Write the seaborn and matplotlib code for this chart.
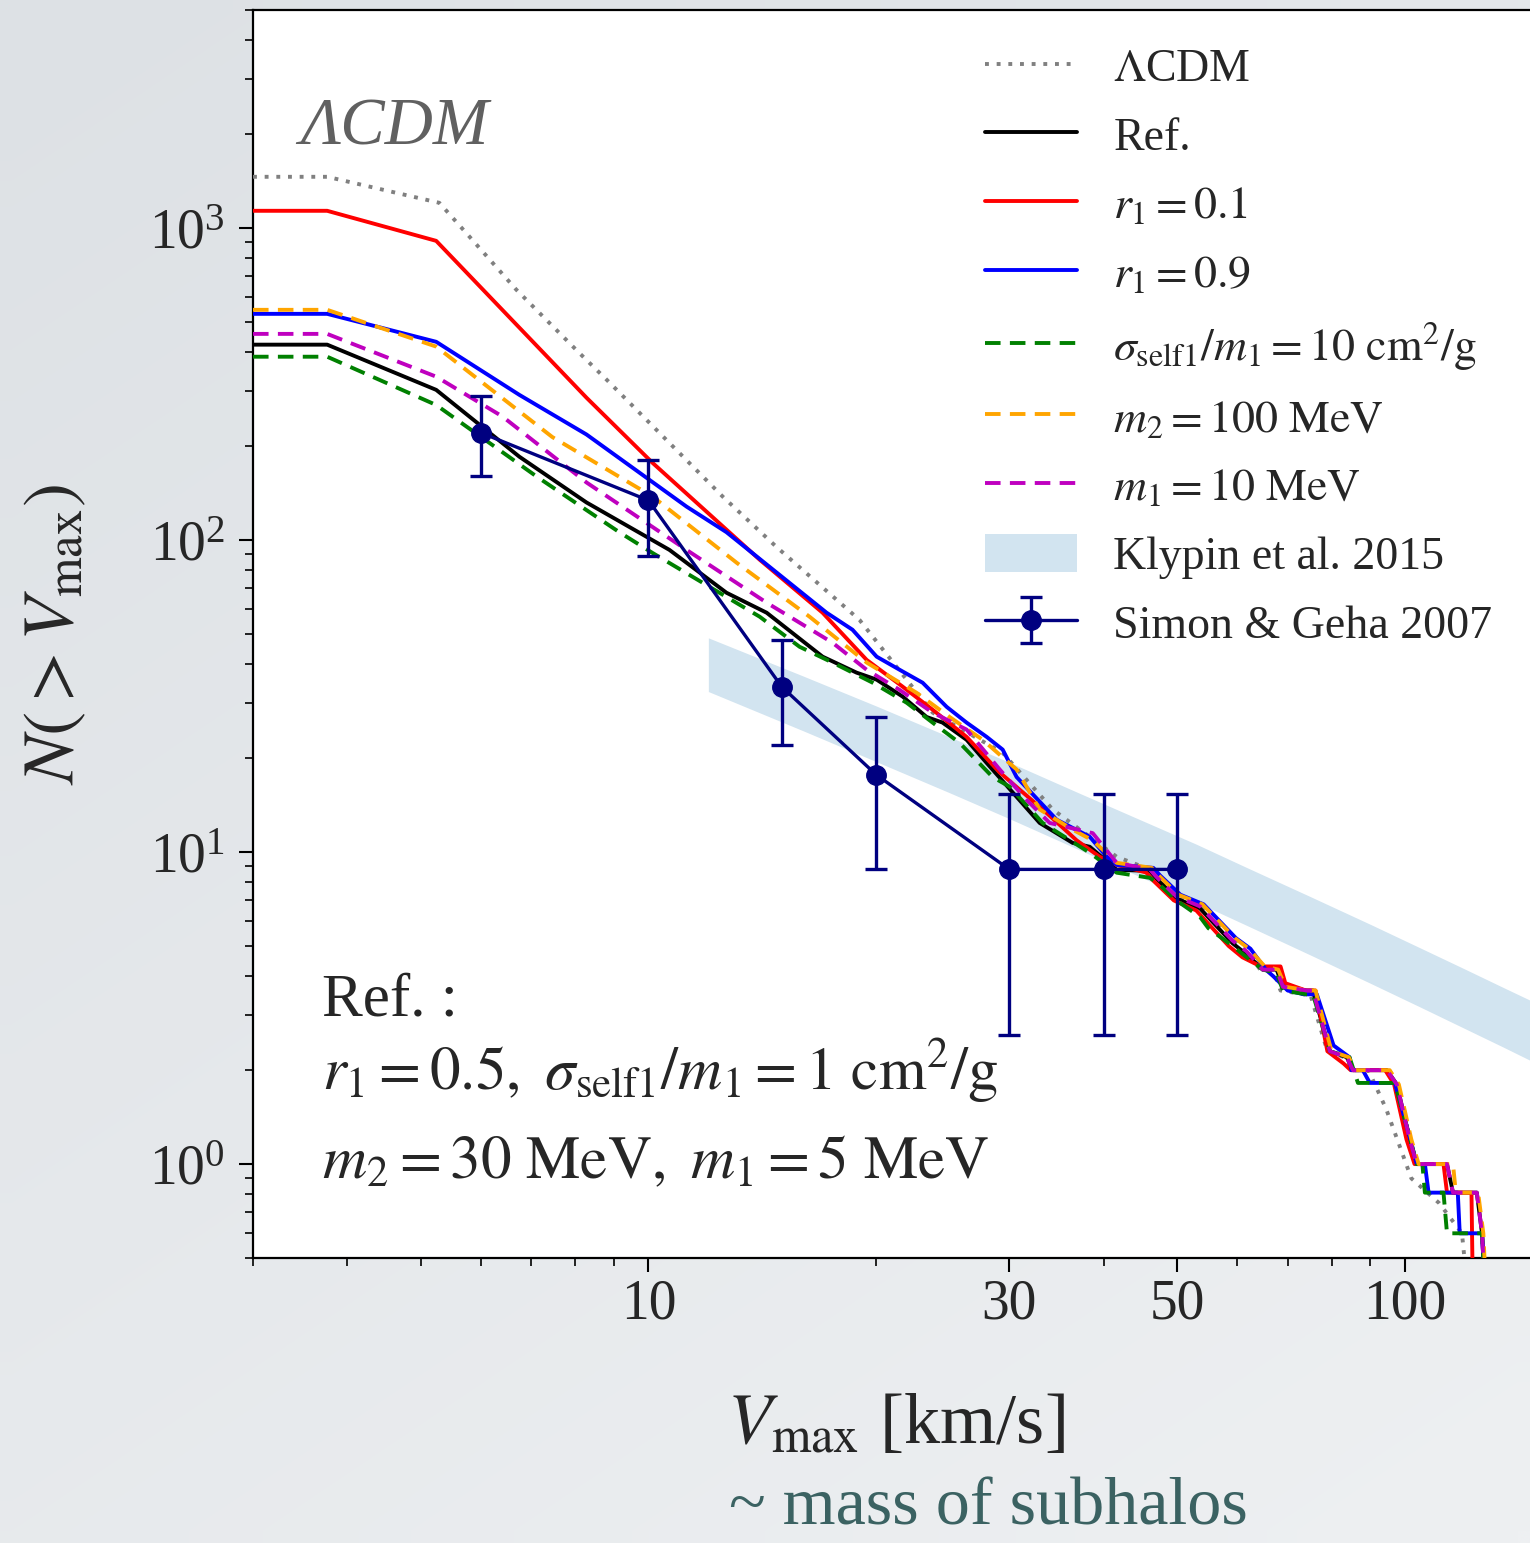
import numpy as np
import matplotlib
matplotlib.use("Agg")
import matplotlib.pyplot as plt
import seaborn as sns
from matplotlib.ticker import FixedLocator, FixedFormatter, LogLocator, NullFormatter

# ---------------- data ----------------
lcdm_v = [3.0, 3.76, 5.29, 5.80, 6.69, 8.10, 8.80, 12.53, 14.77, 19.01, 23.75, 29.40, 34.23, 41.59,
          46.0, 47.0, 49.9, 53.6, 59.2, 61.8, 64.4, 67.2, 68.5, 73.6, 75.0, 79.0, 83.2, 85.0, 89.5, 94.5,
          99.0, 102.0, 111.0, 119.0, 121.0]
lcdm_n = [1460, 1460, 1205, 938, 634, 398, 327, 138, 95, 55.5, 28.0, 20.8, 13.7, 9.66,
          8.8, 8.3, 7.2, 6.7, 5.2, 4.8, 4.2, 4.1, 3.6, 3.5, 3.5, 2.3, 2.2, 2.0, 2.0, 1.5,
          1.1, 0.9, 0.75, 0.6, 0.4]

ref_v = [3.0, 3.76, 5.24, 6.75, 8.28, 10.66, 12.68, 14.33, 16.99, 18.84, 20.03, 21.68, 23.32, 24.48,
         26.34, 28.00, 32.90, 36.38, 38.32, 41.59,
         46.0, 47.0, 49.9, 53.6, 59.2, 61.8, 64.9, 67.7, 69.0, 74.2, 75.6, 79.6, 83.8, 85.4, 94.7, 97.6,
         101.5, 103.7, 113.7, 115.8, 124.5, 126.5, 127.6]
ref_n = [423, 423, 303, 185, 132, 93, 67.8, 58.5, 42.3, 37.6, 35.7, 31.5, 27.1, 26.0,
         22.9, 19.3, 12.4, 10.7, 10.4, 8.78,
         8.7, 8.2, 7.1, 6.6, 5.1, 4.7, 4.2, 4.2, 3.7, 3.6, 3.6, 2.3, 2.2, 2.0, 2.0, 1.8,
         1.2, 1.0, 1.0, 0.81, 0.81, 0.6, 0.4]

r01_v = [3.0, 3.76, 5.24, 8.28, 10.12, 14.03, 16.99, 19.43, 21.68, 23.75, 26.34, 29.13, 33.20, 36.83,
         39.50, 41.59,
         45.5, 46.5, 49.5, 53.0, 58.5, 61.0, 64.5, 68.5, 69.5, 74.0, 76.2, 79.0, 83.0, 84.8, 94.2, 96.8,
         100.5, 103.0, 112.5, 113.7, 122.5, 123.0]
r01_n = [1136, 1136, 910, 286, 177, 86.5, 58.5, 41.3, 33.9, 28.6, 23.4, 18.0, 13.7, 10.9,
         9.66, 9.1,
         8.6, 8.1, 7.0, 6.5, 5.0, 4.6, 4.3, 4.3, 3.8, 3.6, 3.6, 2.3, 2.1, 2.0, 2.0, 1.8,
         1.2, 1.0, 1.0, 0.81, 0.81, 0.4]

r09_v = [3.0, 3.76, 5.24, 6.75, 8.28, 11.23, 12.68, 17.20, 18.61, 20.03, 21.48, 23.04, 24.79, 26.34,
         28.00, 29.40, 30.67, 34.65, 38.32, 40.35, 41.59,
         46.5, 47.5, 50.5, 54.2, 59.8, 62.5, 65.5, 67.0, 70.0, 73.6, 76.5, 80.5, 84.5, 85.0, 88.0, 89.9,
         97.0, 101.5, 103.7, 106.3, 107.5, 117.5, 118.2, 126.5, 127.6]
r09_n = [531, 531, 432, 292, 218, 128, 106, 58.5, 51.6, 42.3, 38.4, 34.9, 29.2, 26.0,
         23.4, 21.3, 17.4, 12.7, 11.2, 9.66, 9.1,
         8.9, 8.4, 7.3, 6.8, 5.3, 4.9, 4.2, 4.0, 3.6, 3.5, 3.5, 2.4, 2.2, 2.0, 2.0, 1.82,
         1.82, 1.22, 1.0, 1.0, 0.81, 0.81, 0.6, 0.6, 0.4]

sig_v = [3.0, 3.76, 5.24, 7.11, 9.15, 10.12, 14.03, 15.84, 17.51, 19.79, 21.95, 23.75, 25.78, 28.51,
         30.03, 33.20, 38.32, 41.59, 46.0,
         47.0, 49.9, 53.6, 55.0, 59.2, 61.8, 64.9, 67.7, 69.0, 74.2, 75.6, 79.6, 84.5, 86.7, 97.0,
         101.5, 103.7, 105.5, 106.3, 112.5, 113.7, 126.5, 127.6]
sig_n = [387, 387, 271, 160, 106, 91, 56.8, 45.5, 40.5, 34.9, 30.1, 26.0, 22.4, 17.4,
         16.2, 12.4, 9.95, 8.59, 8.27,
         8.0, 7.0, 6.2, 5.7, 5.0, 4.6, 4.2, 4.1, 3.6, 3.5, 3.5, 2.3, 2.2, 1.82, 1.82,
         1.22, 1.0, 1.0, 0.81, 0.81, 0.6, 0.6, 0.4]

m2_v = [3.0, 3.76, 5.24, 7.46, 10.12, 13.08, 16.33, 19.43, 22.62, 25.01, 27.66, 30.67, 32.90, 36.38,
        38.67, 41.59,
        46.3, 47.3, 50.2, 54.0, 59.6, 62.2, 65.3, 68.0, 69.5, 74.6, 76.2, 80.0, 84.3, 86.0, 95.5, 98.2,
        102.0, 104.3, 115.8, 116.8, 125.0, 127.0, 128.0]
m2_n = [547, 547, 417, 214, 138, 84.6, 56.8, 40.5, 32.4, 27.1, 22.9, 18.4, 13.7, 11.8,
        10.9, 9.24,
        8.9, 8.4, 7.3, 6.8, 5.3, 4.9, 4.3, 4.2, 3.7, 3.6, 3.6, 2.3, 2.2, 2.0, 2.0, 1.8,
        1.2, 1.0, 1.0, 0.81, 0.81, 0.6, 0.4]

m1_v = [3.0, 3.76, 5.24, 6.41, 8.28, 11.23, 14.33, 17.51, 19.43, 21.48, 23.75, 26.34, 29.13, 31.62,
        33.92, 38.67, 41.59,
        46.0, 47.0, 49.9, 53.6, 59.2, 61.8, 64.9, 67.7, 69.0, 74.2, 75.6, 79.6, 83.8, 85.4, 94.7, 97.6,
        101.5, 103.7, 113.7, 115.8, 124.5, 126.5, 127.6]
m1_n = [458, 458, 334, 249, 153, 93, 63.0, 46.9, 38.4, 33.1, 28.0, 24.7, 18.4, 14.7,
        12.4, 11.5, 9.24,
        8.8, 8.3, 7.2, 6.7, 5.2, 4.8, 4.2, 4.2, 3.7, 3.6, 3.6, 2.3, 2.2, 2.0, 2.0, 1.8,
        1.2, 1.0, 1.0, 0.81, 0.81, 0.6, 0.4]

klypin_v = [12, 16, 20, 25, 30, 37, 45, 53, 62, 75, 90, 105, 120, 135, 150]
klypin_hi = [48.6, 36.7, 29.4, 23.4, 19.4, 15.5, 12.6, 10.6, 8.89, 7.20, 5.87, 4.92, 4.22, 3.68, 3.26]
klypin_lo = [32.7, 24.5, 19.5, 15.5, 12.8, 10.2, 8.27, 6.91, 5.80, 4.68, 3.80, 3.18, 2.72, 2.37, 2.09]

simon_v = [6, 10, 15, 20, 30, 40, 50]
simon_n = [221, 134, 33.9, 17.7, 8.8, 8.8, 8.8]
simon_hi = [290, 181, 47.9, 27.0, 15.3, 15.3, 15.3]
simon_lo = [160, 89, 22.1, 8.85, 2.6, 2.6, 2.6]

xtick_vals = [10, 30, 50, 100]
xtick_labels = ["10", "30", "50", "100"]

labels = [r"$\Lambda$CDM", "Ref.", r"$r_1=0.1$", r"$r_1=0.9$",
          r"$\sigma_{\rm self1}/m_1=10\ {\rm cm}^2/{\rm g}$",
          r"$m_2=100\ {\rm MeV}$", r"$m_1=10\ {\rm MeV}$",
          "Klypin et al. 2015", "Simon & Geha 2007"]

# ---------------- style ----------------
sns.set_theme(style="ticks")
plt.rcParams.update({
    "font.family": ["Liberation Serif", "DejaVu Serif"],
    "mathtext.fontset": "stix",
    "axes.linewidth": 1.6,
    "axes.edgecolor": "black",
})

W, H = 1530, 1543
fig = plt.figure(figsize=(W / 100, H / 100), dpi=100, facecolor="#e7eaed")

# subtle slide-like background gradient
bg = fig.add_axes([0, 0, 1, 1], zorder=0)
gx, gy = np.meshgrid(np.linspace(0, 1, 64), np.linspace(0, 1, 64))
grad = 0.6 * gy + 0.4 * gx
c0 = np.array([0xdd, 0xe1, 0xe5]) / 255.0
c1 = np.array([0xee, 0xf0, 0xf2]) / 255.0
img = c0[None, None, :] * (1 - grad[..., None]) + c1[None, None, :] * grad[..., None]
bg.imshow(img, aspect="auto", extent=[0, 1, 0, 1], origin="upper", interpolation="bilinear")
bg.set_axis_off()

ax = fig.add_axes([253 / W, (H - 1258) / H, (1538 - 253) / W, (1258 - 10) / H], zorder=1)
ax.set_facecolor("white")
ax.set_xscale("log")
ax.set_yscale("log")

lw = 2.8
curves = [
    (lcdm_v, lcdm_n, "grey", (0, (1, 2.0))),
    (ref_v, ref_n, "black", "-"),
    (r01_v, r01_n, "#ff0000", "-"),
    (r09_v, r09_n, "#0000ff", "-"),
    (sig_v, sig_n, "#008000", (0, (4.0, 2.4))),
    (m2_v, m2_n, "#ffa500", (0, (4.0, 2.4))),
    (m1_v, m1_n, "#bf00bf", (0, (4.0, 2.4))),
]
handles = []
for (v, n, c, ls), lab in zip(curves, labels[:7]):
    sns.lineplot(x=v, y=n, ax=ax, color=c, linestyle=ls, linewidth=lw,
                 sort=False, estimator=None, zorder=3)
    handles.append(ax.get_lines()[-1])

band = ax.fill_between(klypin_v, klypin_lo, klypin_hi, color="#d2e4f0", lw=0, zorder=1)
handles.append(band)

sn = np.array(simon_n)
err = [sn - np.array(simon_lo), np.array(simon_hi) - sn]
eb = ax.errorbar(simon_v, simon_n, yerr=err, fmt="o-", color="#000080", ms=14,
                 lw=2.4, elinewidth=2.4, capsize=8, capthick=2.4, zorder=5)
handles.append(eb)

ax.set_xlim(3, 150)
ax.set_ylim(0.5, 5000)

ax.xaxis.set_major_locator(FixedLocator(xtick_vals))
ax.xaxis.set_major_formatter(FixedFormatter(xtick_labels))
ax.xaxis.set_minor_locator(LogLocator(base=10, subs=np.arange(2, 10), numticks=20))
ax.xaxis.set_minor_formatter(NullFormatter())
ax.yaxis.set_major_locator(LogLocator(base=10, numticks=10))
ax.yaxis.set_minor_locator(LogLocator(base=10, subs=np.arange(2, 10), numticks=20))
ax.yaxis.set_minor_formatter(NullFormatter())
ax.tick_params(which="major", length=10, width=1.5, labelsize=40, direction="out", color="black")
ax.tick_params(which="minor", length=6, width=1.2, direction="out", color="black")
ax.tick_params(axis="x", which="major", pad=5)
ax.tick_params(axis="y", which="major", pad=10)

ax.set_xlabel(r"$V_{\rm max}$ [km/s]", fontsize=52)
ax.xaxis.set_label_coords(0.5, -0.108)
ax.set_ylabel(r"$N(>V_{\rm max})$", fontsize=52)
ax.yaxis.set_label_coords(-0.128, 0.5)

ax.text(0.037, 0.892, "ΛCDM", transform=ax.transAxes, fontsize=48, style="italic",
        color="#606060", family=["Liberation Serif", "DejaVu Serif"])

ax.text(0.054, 0.1947, "Ref. :", transform=ax.transAxes, fontsize=44, va="baseline")
ax.text(0.054, 0.1346, r"$r_1=0.5,\ \sigma_{\rm self1}/m_1=1\ {\rm cm}^2/{\rm g}$",
        transform=ax.transAxes, fontsize=44, va="baseline")
ax.text(0.054, 0.0641, r"$m_2=30\ {\rm MeV},\ m_1=5\ {\rm MeV}$",
        transform=ax.transAxes, fontsize=44, va="baseline")

leg = ax.legend(handles, labels, loc="upper left", bbox_to_anchor=(0.5696, 0.971),
                frameon=False, fontsize=33, handlelength=2.0, handletextpad=0.8,
                labelspacing=0.52, borderpad=0, borderaxespad=0, handleheight=0.9)

fig.text(0.646, 0.003, "~ mass of subhalos", ha="center", va="bottom",
         fontsize=49, color="#3b6262")

fig.savefig("out.png", dpi=100, facecolor=fig.get_facecolor())
